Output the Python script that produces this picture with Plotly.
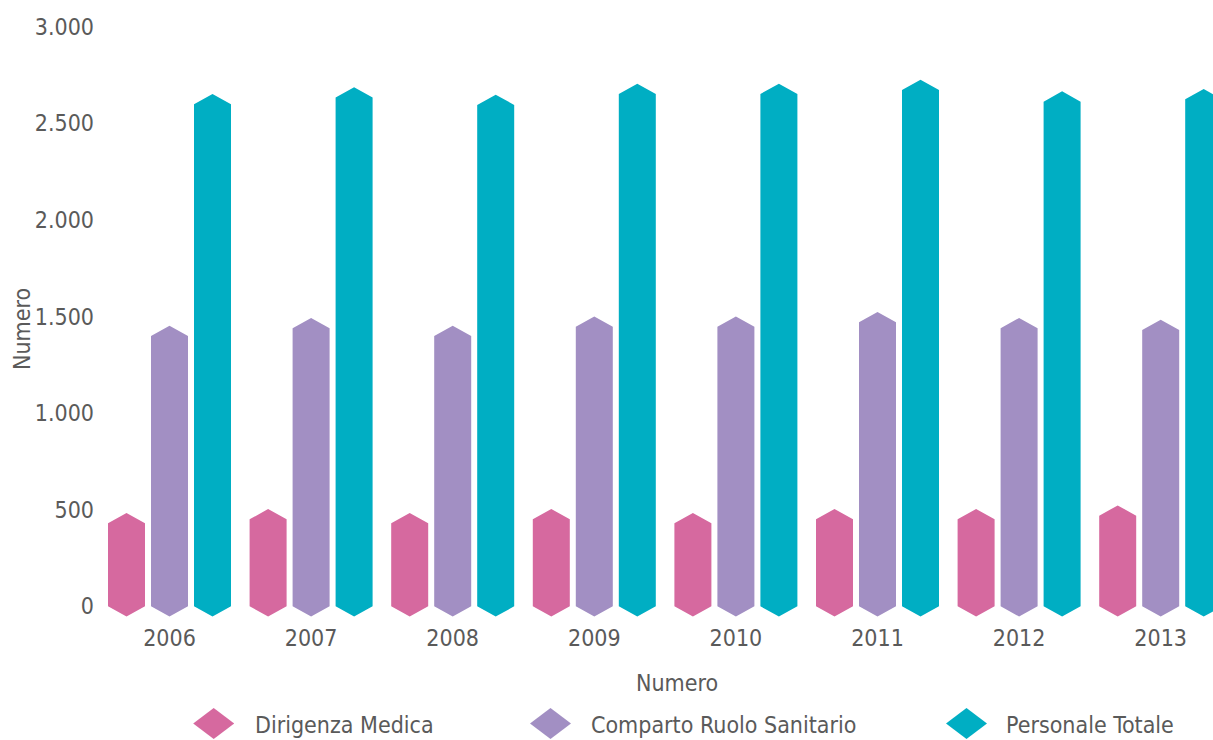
import plotly.graph_objects as go

# ---------------- data ----------------
years = ["2006", "2007", "2008", "2009", "2010", "2011", "2012", "2013"]
series_names = ["Dirigenza Medica", "Comparto Ruolo Sanitario", "Personale Totale"]
dirigenza_medica = [430, 450, 430, 450, 430, 450, 450, 469]
comparto_ruolo_sanitario = [1399, 1439, 1399, 1447, 1447, 1470, 1439, 1430]
personale_totale = [2598, 2633, 2595, 2652, 2652, 2672, 2612, 2624]
y_tick_values = [0, 500, 1000, 1500, 2000, 2500, 3000]
y_tick_labels = ["0", "500", "1.000", "1.500", "2.000", "2.500", "3.000"]
axis_title = "Numero"

# ---------------- style ----------------
colors = ["#D6699F", "#A28FC3", "#00AEC3"]
FONT = "DejaVu Sans Condensed, Liberation Sans Narrow, sans-serif"
TEXT_COLOR = "#5a5a5a"
FS = 23

W, H = 1213, 740

PLOT_LEFT, PLOT_TOP, PLOT_BOTTOM = 99, 20, 622
ML, MT, MR = PLOT_LEFT, PLOT_TOP, 0
MB = H - PLOT_BOTTOM
plot_w = W - ML - MR
plot_h = PLOT_BOTTOM - PLOT_TOP

PX_PER_CAT = 141.6
FIRST_CAT_PX = 169.5
PX_PER_UNIT = 0.1932
ZERO_PX = 606.3

x_range = [(PLOT_LEFT - FIRST_CAT_PX) / PX_PER_CAT, (W - MR - FIRST_CAT_PX) / PX_PER_CAT]
y_range = [-(PLOT_BOTTOM - ZERO_PX) / PX_PER_UNIT, (ZERO_PX - PLOT_TOP) / PX_PER_UNIT]

bar_w = 37 / PX_PER_CAT
offsets = [-43 / PX_PER_CAT, 0.0, 43 / PX_PER_CAT]
tip = 10.3 / PX_PER_UNIT


def hexagons(center_offset, values):
    xs, ys = [], []
    for i, v in enumerate(values):
        c = i + center_offset
        l, r = c - bar_w / 2, c + bar_w / 2
        xs += [l, c, r, r, c, l, l, None]
        ys += [0, -tip, 0, v, v + tip, v, 0, None]
    return xs, ys


fig = go.Figure()
for name, vals, col, off in zip(series_names,
                                [dirigenza_medica, comparto_ruolo_sanitario, personale_totale],
                                colors, offsets):
    xs, ys = hexagons(off, vals)
    fig.add_trace(go.Scatter(
        x=xs, y=ys, mode="lines", fill="toself", fillcolor=col,
        line=dict(width=0, color=col), name=name, showlegend=False,
        hoverinfo="skip",
    ))


def px_to_paper(sx, sy):
    return (sx - PLOT_LEFT) / plot_w, (PLOT_BOTTOM - sy) / plot_h


# custom legend (wide diamonds + labels)
legend_diamond_px = [213.7, 550.5, 966.5]
legend_text_px = [253, 589, 1004]
legend_y_px = 723.5
shapes, annotations = [], []
for name, col, dx, tx in zip(series_names, colors, legend_diamond_px, legend_text_px):
    ax, ay = px_to_paper(dx, legend_y_px)
    shapes.append(dict(
        type="path", xref="paper", yref="paper", xsizemode="pixel", ysizemode="pixel",
        xanchor=ax, yanchor=ay, path="M -20.5 0 L 0 15.5 L 20.5 0 L 0 -15.5 Z",
        fillcolor=col, line=dict(width=0),
    ))
    lx, ly = px_to_paper(tx, legend_y_px + 1)
    annotations.append(dict(
        text=name, xref="paper", yref="paper", x=lx, y=ly, xanchor="left", yanchor="middle",
        showarrow=False, font=dict(family=FONT, size=FS, color=TEXT_COLOR),
    ))

tx, ty = px_to_paper(677, 683)
annotations.append(dict(text=axis_title, xref="paper", yref="paper", x=tx, y=ty,
                        xanchor="center", yanchor="middle", showarrow=False,
                        font=dict(family=FONT, size=FS, color=TEXT_COLOR)))
tx, ty = px_to_paper(22, 329)
annotations.append(dict(text=axis_title, xref="paper", yref="paper", x=tx, y=ty,
                        xanchor="center", yanchor="middle", showarrow=False, textangle=-90,
                        font=dict(family=FONT, size=FS, color=TEXT_COLOR)))

fig.update_layout(
    width=W, height=H,
    margin=dict(l=ML, r=MR, t=MT, b=MB, pad=0),
    paper_bgcolor="white", plot_bgcolor="white",
    font=dict(family=FONT, size=FS, color=TEXT_COLOR),
    showlegend=False,
    shapes=shapes, annotations=annotations,
    xaxis=dict(range=x_range, tickmode="array", tickvals=list(range(len(years))),
               ticktext=years, showgrid=False, zeroline=False, showline=False,
               ticks="", fixedrange=True),
    yaxis=dict(range=y_range, tickmode="array", tickvals=y_tick_values,
               ticktext=y_tick_labels, showgrid=False, zeroline=False, showline=False,
               ticks="", fixedrange=True, ticklabelstandoff=4),
)

fig.write_html(
    "out.html",
    config={"displayModeBar": False},
    post_script="document.body.style.margin='0';document.body.style.overflow='hidden';",
)
